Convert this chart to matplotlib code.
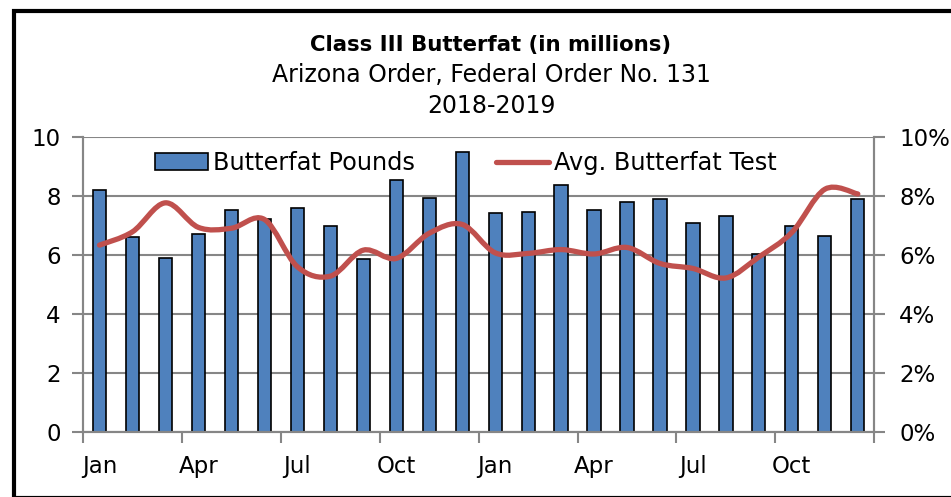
import matplotlib.pyplot as plt
from matplotlib.path import Path
from matplotlib.patches import PathPatch, Rectangle
from matplotlib.lines import Line2D
from matplotlib.ticker import FuncFormatter

# Monthly data, Jan 2018 - Dec 2019
months = ['Jan', 'Feb', 'Mar', 'Apr', 'May', 'Jun', 'Jul', 'Aug', 'Sep', 'Oct', 'Nov', 'Dec'] * 2
month_labels = ['Jan', 'Apr', 'Jul', 'Oct', 'Jan', 'Apr', 'Jul', 'Oct']
butterfat_pounds = [8.19, 6.61, 5.88, 6.71, 7.51, 7.21, 7.58, 6.98, 5.87, 8.53, 7.93, 9.47,
                    7.42, 7.45, 8.38, 7.51, 7.80, 7.90, 7.09, 7.30, 6.04, 6.97, 6.64, 7.90]
butterfat_test = [6.33, 6.78, 7.76, 6.93, 6.90, 7.20, 5.60, 5.28, 6.16, 5.88, 6.73, 7.03,
                  6.07, 6.05, 6.18, 6.03, 6.25, 5.71, 5.54, 5.22, 5.93, 6.76, 8.22, 8.06]

bar_color = '#4F81BD'
line_color = '#C0504D'
grid_color = '#868686'

W, H = 951, 497
fig = plt.figure(figsize=(W / 100, H / 100), dpi=100)
ax = fig.add_axes([83 / W, 1 - 432.3 / H, (874.3 - 83) / W, (432.3 - 136.6) / H])
ax2 = ax.twinx()

x = list(range(len(months)))
ax.bar(x, butterfat_pounds, width=0.4, color=bar_color, edgecolor='black', linewidth=1.2, zorder=2)

# smoothed line (Excel-style bezier through the points)
pts = list(zip(x, butterfat_test))
verts = [pts[0]]
codes = [Path.MOVETO]
for i in range(len(pts) - 1):
    p0 = pts[i - 1] if i > 0 else pts[i]
    p1 = pts[i]
    p2 = pts[i + 1]
    p3 = pts[i + 2] if i + 2 < len(pts) else pts[i + 1]
    c1 = (p1[0] + (p2[0] - p0[0]) / 6, p1[1] + (p2[1] - p0[1]) / 6)
    c2 = (p2[0] - (p3[0] - p1[0]) / 6, p2[1] - (p3[1] - p1[1]) / 6)
    verts += [c1, c2, p2]
    codes += [Path.CURVE4] * 3
ax2.add_patch(PathPatch(Path(verts, codes), facecolor='none', edgecolor=line_color,
                        linewidth=3.8, capstyle='round', joinstyle='round', zorder=3))

ax.set_xlim(-0.5, len(months) - 0.5)
ax.set_ylim(0, 10)
ax2.set_ylim(0, 10)
ax.set_yticks(range(0, 11, 2))
ax2.set_yticks(range(0, 11, 2))
ax2.yaxis.set_major_formatter(FuncFormatter(lambda v, p: f'{v:.0f}%'))

ax.set_xticks([i - 0.5 for i in range(0, 25, 3)])
ax.set_xticklabels([])
ax.set_xticks(list(range(0, 24, 3)), minor=True)
ax.set_xticklabels(month_labels, minor=True)
ax.tick_params(axis='x', which='major', length=8, width=1.5, color=grid_color, direction='out')
ax.tick_params(axis='x', which='minor', length=0, pad=16, labelsize=16.5)
ax.tick_params(axis='y', length=8, width=1.5, color=grid_color, pad=8, labelsize=16.5)
ax2.tick_params(axis='y', length=8, width=1.5, color=grid_color, pad=10, labelsize=16.5)

ax.yaxis.grid(True, color=grid_color, linewidth=1.5, zorder=0)
ax.set_axisbelow(True)
for a in (ax, ax2):
    a.spines['top'].set_visible(False)
    for s in ('left', 'right', 'bottom'):
        a.spines[s].set_color(grid_color)
        a.spines[s].set_linewidth(1.5)

handles = [Rectangle((0, 0), 1, 1, facecolor=bar_color, edgecolor='black', linewidth=1.2),
           Line2D([], [], color=line_color, linewidth=3.8, solid_capstyle='round')]
fig.legend(handles, ['Butterfat Pounds', 'Avg. Butterfat Test'], ncol=2, frameon=False,
           loc='center', bbox_to_anchor=(466 / W, 1 - 163 / H), fontsize=17.3,
           handlelength=2.2, handletextpad=0.2, columnspacing=3.4)

fig.text(491 / W, 1 - 45 / H, 'Class III Butterfat (in millions)', ha='center', va='center',
         fontsize=15.3, fontweight='bold')
fig.text(491 / W, 1 - 75 / H, 'Arizona Order, Federal Order No. 131', ha='center', va='center',
         fontsize=17)
fig.text(491 / W, 1 - 106 / H, '2018-2019', ha='center', va='center', fontsize=17)

# outer frame
fig.patches.append(Rectangle((14 / W, -1 / H), 1.1, (H - 10.5) / H + 1 / H, transform=fig.transFigure,
                             facecolor='none', edgecolor='black', linewidth=3))

fig.savefig('out.png', dpi=100)
